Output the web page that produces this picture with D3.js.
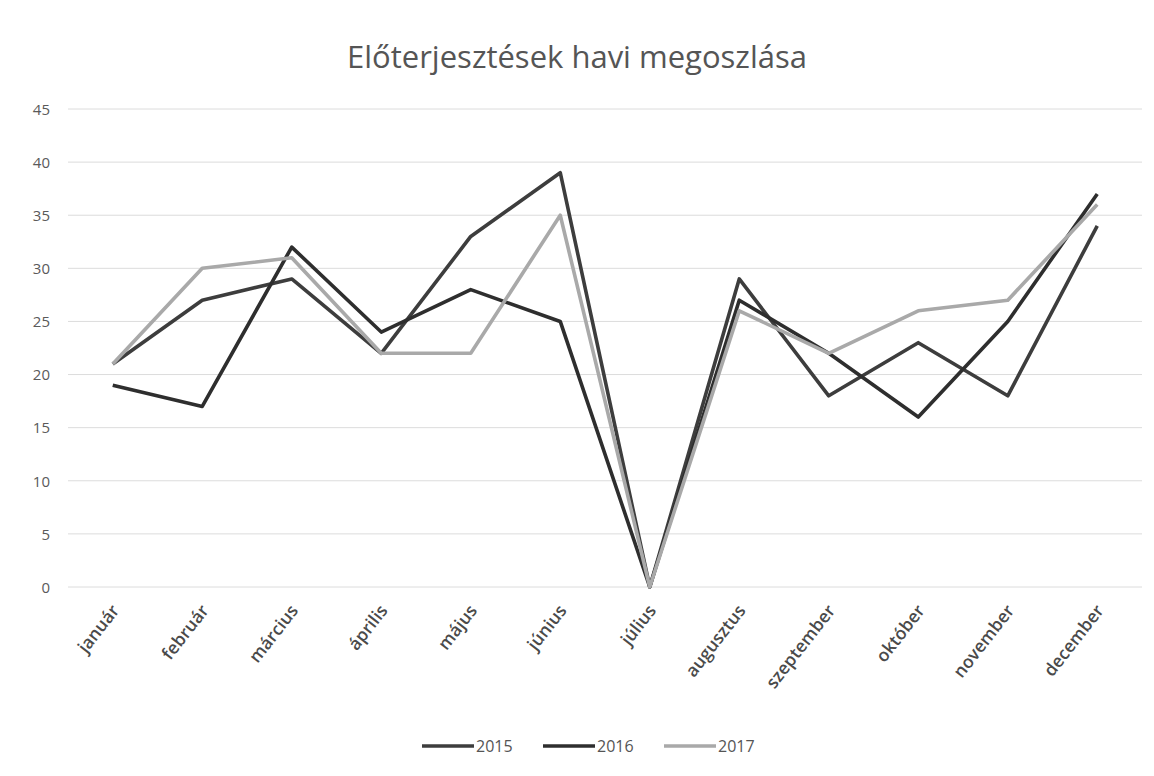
<!DOCTYPE html>
<html>
<head>
<meta charset="utf-8">
<script src="https://cdn.jsdelivr.net/npm/d3@7"></script>
<style>
  body { margin: 0; background: #fff; }
  text { font-family: "Open Sans", "Noto Sans", sans-serif; }
</style>
</head>
<body>
<div id="viz-container"></div>
<script>
// monthly values
const months = ["január", "február", "március", "április", "május", "június",
    "július", "augusztus", "szeptember", "október", "november", "december"];
const years = ["2015", "2016", "2017"];
const v2015 = [21, 27, 29, 22, 33, 39, 0, 29, 18, 23, 18, 34];
const v2016 = [19, 17, 32, 24, 28, 25, 0, 27, 22, 16, 25, 37];
const v2017 = [21, 30, 31, 22, 22, 35, 0, 26, 22, 26, 27, 36];
const yTicks = [0, 5, 10, 15, 20, 25, 30, 35, 40, 45];

const drawChart = () => {
    const width = 1154;
    const height = 776;
    const left = 68, right = 1142, top = 109, bottom = 587;

    const series = [
        { name: years[0], values: v2015, color: "#3d3d3d" },
        { name: years[1], values: v2016, color: "#2e2e2e" },
        { name: years[2], values: v2017, color: "#a9a9a9" }
    ];

    const svg = d3.select("#viz-container")
        .append("svg")
        .attr("width", width)
        .attr("height", height);

    const x = d3.scalePoint()
        .domain(months)
        .range([left, right])
        .padding(0.5);

    const y = d3.scaleLinear()
        .domain([0, 45])
        .range([bottom, top]);

    // gridlines
    svg.append("g")
        .selectAll("line")
        .data(yTicks)
        .join("line")
        .attr("x1", left)
        .attr("x2", right)
        .attr("y1", d => y(d))
        .attr("y2", d => y(d))
        .attr("stroke", "#dcdcdc")
        .attr("stroke-width", 1);

    // y axis labels
    const yAxis = svg.append("g")
        .attr("transform", `translate(${left - 18},0)`)
        .call(d3.axisLeft(y).tickValues(yTicks).tickSize(0).tickPadding(0));
    yAxis.select(".domain").remove();
    yAxis.selectAll("text")
        .attr("font-size", 15)
        .attr("fill", "#5a5a5a")
        .attr("dy", "0.35em");

    // x axis labels, rotated
    const xAxis = svg.append("g")
        .attr("transform", `translate(0,${bottom + 10})`)
        .call(d3.axisBottom(x).tickSize(0).tickPadding(0));
    xAxis.select(".domain").remove();
    xAxis.selectAll("text")
        .attr("font-size", 17.5)
        .attr("font-weight", 600)
        .attr("fill", "#4a4a4a")
        .attr("text-anchor", "end")
        .attr("dy", "0.35em")
        .attr("transform", "translate(2,10) rotate(-52)");

    // lines
    const line = d3.line()
        .x((d, i) => x(months[i]))
        .y(d => y(d));

    svg.append("g")
        .selectAll("path")
        .data(series)
        .join("path")
        .attr("d", d => line(d.values))
        .attr("fill", "none")
        .attr("stroke", d => d.color)
        .attr("stroke-width", 3.6)
        .attr("stroke-linejoin", "round");

    // title
    svg.append("text")
        .attr("x", 577)
        .attr("y", 68)
        .attr("text-anchor", "middle")
        .attr("font-size", 31)
        .attr("fill", "#555")
        .text("Előterjesztések havi megoszlása");

    // legend
    const legend = svg.append("g")
        .selectAll("g")
        .data(series)
        .join("g")
        .attr("transform", (d, i) => `translate(${422 + i * 121},746)`);
    legend.append("line")
        .attr("x1", 0)
        .attr("x2", 52)
        .attr("stroke", d => d.color)
        .attr("stroke-width", 3.6);
    legend.append("text")
        .attr("x", 54)
        .attr("dy", "0.35em")
        .attr("font-size", 16)
        .attr("fill", "#555")
        .text(d => d.name);
};

drawChart();
</script>
</body>
</html>
